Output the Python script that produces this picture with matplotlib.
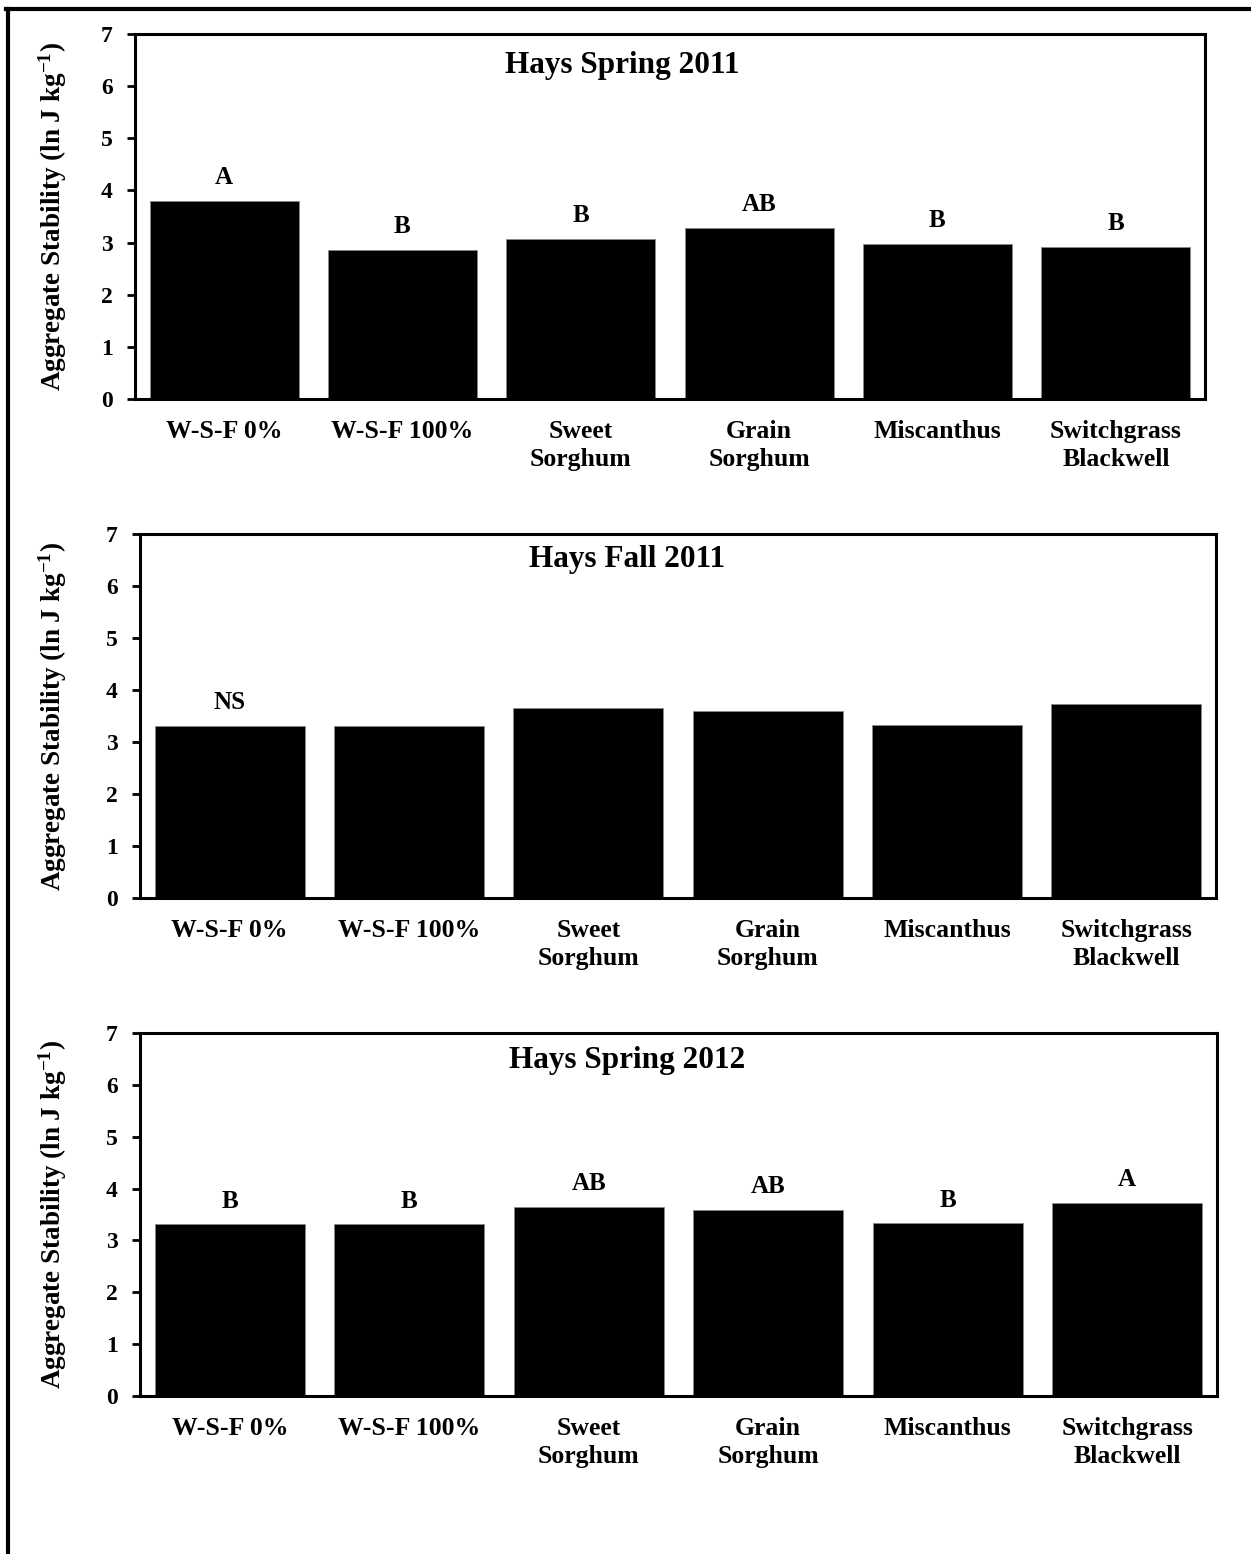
import matplotlib
matplotlib.use("Agg")
import matplotlib.pyplot as plt
from matplotlib.lines import Line2D
import numpy as np

plt.rcParams['font.family'] = ['Liberation Serif', 'DejaVu Serif']
plt.rcParams['font.weight'] = 'bold'
plt.rcParams['mathtext.fontset'] = 'custom'
plt.rcParams['mathtext.rm'] = 'Liberation Serif:bold'
plt.rcParams['mathtext.bf'] = 'Liberation Serif:bold'
plt.rcParams['mathtext.default'] = 'bf'

# treatments and mean aggregate stability for each sampling date
treatments = ['W-S-F 0%', 'W-S-F 100%', 'Sweet\nSorghum', 'Grain\nSorghum',
              'Miscanthus', 'Switchgrass\nBlackwell']
spring_2011 = [3.80, 2.86, 3.07, 3.28, 2.97, 2.91]
fall_2011 = [3.31, 3.31, 3.65, 3.59, 3.33, 3.73]
spring_2012 = [3.31, 3.31, 3.65, 3.59, 3.33, 3.73]
letters_spring_2011 = ['A', 'B', 'B', 'AB', 'B', 'B']
letters_fall_2011 = ['NS', '', '', '', '', '']
letters_spring_2012 = ['B', 'B', 'AB', 'AB', 'B', 'A']
titles = ['Hays Spring 2011', 'Hays Fall 2011', 'Hays Spring 2012']

W, H = 1251, 1554
fig = plt.figure(figsize=(W / 100, H / 100), dpi=100)

# panel boxes in pixels: left, top, right, bottom
boxes = [(135, 34, 1205, 399), (140, 534, 1216, 898), (140, 1033, 1217, 1396)]
series = [spring_2011, fall_2011, spring_2012]
letters = [letters_spring_2011, letters_fall_2011, letters_spring_2012]
title_x = [0.455, 0.453, 0.452]
title_y = [0.915, 0.93, 0.925]

x = np.arange(len(treatments))
for (l, t, r, b), vals, labs, title, tx, ty in zip(boxes, series, letters, titles,
                                                   title_x, title_y):
    ax = fig.add_axes([l / W, 1 - b / H, (r - l) / W, (b - t) / H])
    ax.bar(x, vals, width=0.835, color='black', edgecolor='#888888', linewidth=0.6)
    ax.set_xlim(-0.5, len(treatments) - 0.5)
    ax.set_ylim(0, 7)
    ax.set_yticks(range(8))
    ax.set_xticks(x)
    ax.set_xticklabels(treatments, fontsize=18.5, fontweight='bold', linespacing=1.3)
    ax.tick_params(axis='x', length=0, pad=15)
    ax.tick_params(axis='y', direction='out', length=6, width=2, labelsize=17, pad=10)
    for lab in ax.get_yticklabels():
        lab.set_fontweight('bold')
    for sp in ax.spines.values():
        sp.set_linewidth(2.2)
    for xi, v, s in zip(x, vals, labs):
        if s:
            ax.annotate(s, (xi, v), xytext=(0, 8.5), textcoords='offset points',
                        ha='center', va='bottom', fontsize=18, fontweight='bold')
    ax.text(tx, ty, title, transform=ax.transAxes, ha='center', va='center',
            fontsize=22.5, fontweight='bold')
    ax.set_ylabel(r'Aggregate Stability (ln J kg$^{-1}$)', fontsize=19.5, fontweight='bold')
    ax.yaxis.set_label_coords((69 - l) / (r - l), 0.5)

# outer frame: top and left edges
fig.add_artist(Line2D([6 / W, 1], [1 - 9 / H, 1 - 9 / H], color='black', linewidth=3,
                      transform=fig.transFigure))
fig.add_artist(Line2D([7.5 / W, 7.5 / W], [0, 1 - 9 / H], color='black', linewidth=3,
                      transform=fig.transFigure))

fig.savefig('out.png', dpi=100, facecolor='white')
